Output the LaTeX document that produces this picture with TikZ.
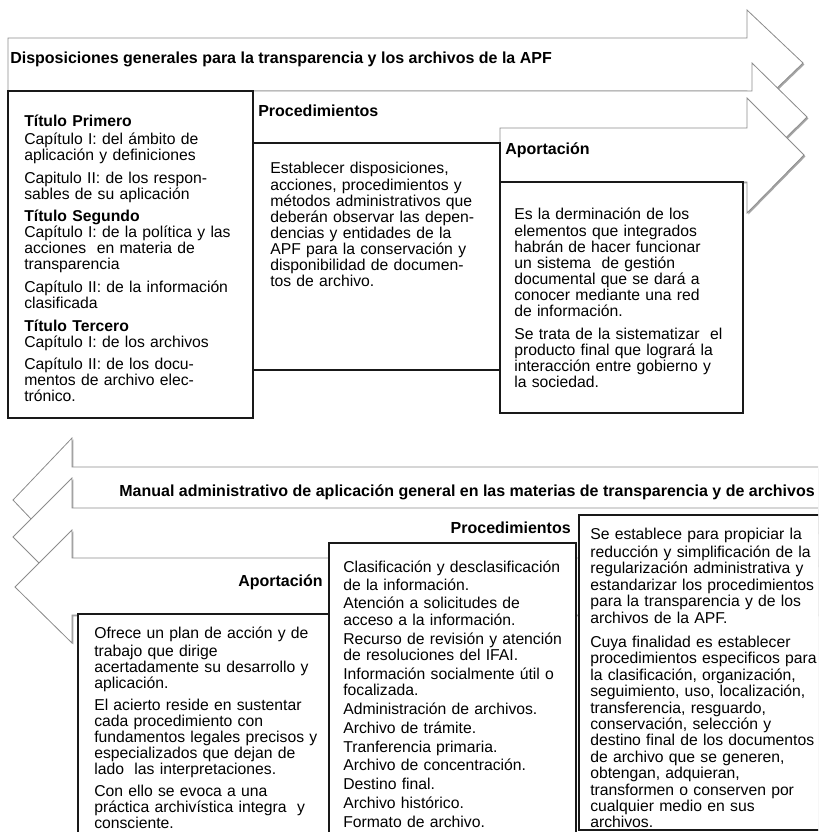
\documentclass[tikz,border=0pt]{standalone}
\usepackage{fontspec}
\setmainfont{Liberation Sans}
\usetikzlibrary{shadows}
\newcommand{\salto}{\\[5pt]}
\newcommand{\saltito}{\\[1.8pt]}
\begin{document}
\begin{tikzpicture}[x=0.75pt,y=-0.75pt,
    flecha/.style={draw=black!45,line width=0.6pt,fill=white,
      drop shadow={shadow xshift=1.1pt,shadow yshift=-1.1pt,opacity=0.5,fill=black!70}},
    caja/.style={draw=black!90,line width=1pt,fill=white,
      drop shadow={shadow xshift=1.1pt,shadow yshift=-1.1pt,opacity=0.4,fill=black!70}},
    titulo/.style={inner sep=0pt,font=\fontsize{12}{14}\selectfont\bfseries},
    texto/.style={anchor=north west,inner sep=0pt,align=left,text width=200pt,
      font=\fontsize{11.8}{12}\selectfont},
    textoabajo/.style={texto,font=\fontsize{11.8}{12.3}\selectfont}]
  \useasboundingbox (0,0) rectangle (818,832);
  \clip (0,0) rectangle (818,832);
  % flechas de arriba
  \draw[flecha] (8,38) -- (747,38) -- (747,10) -- (803,63) -- (747,117) -- (747,91) -- (8,91) -- cycle;
  \draw[flecha] (253,91) -- (752,91) -- (752,63) -- (807,117) -- (752,171) -- (752,143) -- (253,143) -- cycle;
  \draw[flecha] (500,128) -- (747,128) -- (747,98) -- (804,155) -- (747,213) -- (747,182) -- (500,182) -- cycle;
  % cajas de arriba
  \draw[caja] (8,91) rectangle (253,418);
  \draw[caja] (253,143) rectangle (500,370);
  \draw[caja] (500,182) rectangle (743,413);
  % flechas de abajo
  \draw[flecha] (830,467) -- (72,467) -- (72,438) -- (13,500) -- (72,562) -- (72,533) -- (830,533) -- cycle;
  \draw[flecha] (830,508) -- (72,508) -- (72,478) -- (13,537) -- (72,596) -- (72,566) -- (830,566) -- cycle;
  \draw[flecha] (830,558) -- (72,558) -- (72,530) -- (15,587) -- (72,643) -- (72,615) -- (830,615) -- cycle;
  % cajas de abajo
  \draw[caja] (78,614) rectangle (329,845);
  \draw[caja] (329,543) rectangle (576,845);
  \draw[caja] (579,515) rectangle (835,830);
  % encabezados
  \node[titulo,anchor=west] (dispo) at (10,59) {Disposiciones generales para la transparencia y los archivos de la APF};
  \node[titulo,anchor=west] (proc1) at (258,111) {Procedimientos};
  \node[titulo,anchor=west] (apor1) at (505,150) {Aportación};
  \node[titulo,anchor=east] (manual) at (815,492) {Manual administrativo de aplicación general en las materias de transparencia y de archivos};
  \node[titulo,anchor=east] (proc2) at (571,528) {Procedimientos};
  \node[titulo,anchor=east] (apor2) at (323,582) {Aportación};
  % textos de arriba
  \node[texto] (titulos) at (24,115) {\strut\textbf{Título Primero}\\
    Capítulo I: del ámbito de\\
    aplicación y definiciones\salto
    Capitulo II: de los respon-\\
    sables de su aplicación\salto
    \textbf{Título Segundo}\\
    Capítulo I: de la política y las\\
    acciones \ en materia de\\
    transparencia\salto
    Capítulo II: de la información\\
    clasificada\salto
    \textbf{Título Tercero}\\
    Capítulo I: de los archivos\salto
    Capítulo II: de los docu-\\
    mentos de archivo elec-\\
    trónico.};
  \node[texto] (establecer) at (270,161.5) {\strut Establecer disposiciones,\\
    acciones, procedimientos y\\
    métodos administrativos que\\
    deberán observar las depen-\\
    dencias y entidades de la\\
    APF para la conservación y\\
    disponibilidad de documen-\\
    tos de archivo.};
  \node[texto] (derminacion) at (514,207.5) {\strut Es la derminación de los\\
    elementos que integrados\\
    habrán de hacer funcionar\\
    un sistema \ de gestión\\
    documental que se dará a\\
    conocer mediante una red\\
    de información.\salto
    Se trata de la sistematizar \ el\\
    producto final que logrará la\\
    interacción entre gobierno y\\
    la sociedad.};
  % textos de abajo
  \node[textoabajo] (propiciar) at (590,528) {\strut Se establece para propiciar la\\
    reducción y simplificación de la\\
    regularización administrativa y\\
    estandarizar los procedimientos\\
    para la transparencia y de los\\
    archivos de la APF.\\[6pt]
    Cuya finalidad es establecer\\
    procedimientos especificos para\\
    la clasificación, organización,\\
    seguimiento, uso, localización,\\
    transferencia, resguardo,\\
    conservación, selección y\\
    destino final de los documentos\\
    de archivo que se generen,\\
    obtengan, adquieran,\\
    transformen o conserven por\\
    cualquier medio en sus\\
    archivos.};
  \node[textoabajo] (clasificacion) at (343,560.5) {\strut Clasificación y desclasificación\\
    de la información.\saltito
    Atención a solicitudes de\\
    acceso a la información.\saltito
    Recurso de revisión y atención\\
    de resoluciones del IFAI.\saltito
    Información socialmente útil o\\
    focalizada.\saltito
    Administración de archivos.\saltito
    Archivo de trámite.\saltito
    Tranferencia primaria.\saltito
    Archivo de concentración.\saltito
    Destino final.\saltito
    Archivo histórico.\saltito
    Formato de archivo.};
  \node[texto,font=\fontsize{11.8}{12.1}\selectfont] (ofrece) at (94,627) {\strut Ofrece un plan de acción y de\\
    trabajo que dirige\\
    acertadamente su desarrollo y\\
    aplicación.\\[4pt]
    El acierto reside en sustentar\\
    cada procedimiento con\\
    fundamentos legales precisos y\\
    especializados que dejan de\\
    lado \ las interpretaciones.\\[4pt]
    Con ello se evoca a una\\
    práctica archivística integra \ y\\
    consciente.};
\end{tikzpicture}
\end{document}
